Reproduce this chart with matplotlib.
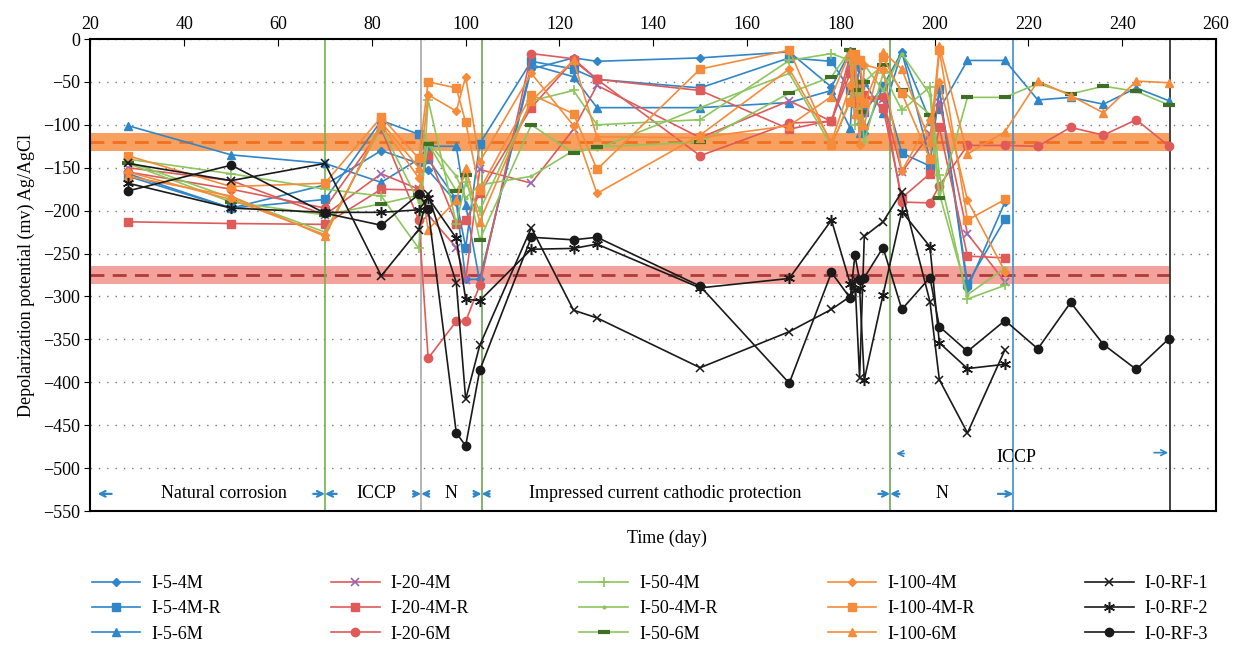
import numpy as np
import matplotlib
matplotlib.use('Agg')
import matplotlib.pyplot as plt

plt.rcParams['font.family'] = ['Liberation Serif', 'DejaVu Serif']

# sampling days
days = [28, 50, 70, 82, 90, 92, 98, 100, 103, 114, 123, 128, 150, 169, 178,
        182, 183, 184, 185, 189, 193, 199, 201, 207, 215]
tail_days = [222, 229, 236, 243, 250]
days_long = days + tail_days

# depolarization potential (mV) per specimen
I_5_4M   = [-157, -197, -170, -130, -145, -153, -190, -280, -280, -35, -22, -26, -22, -15, -56,
            -14, -20, -90, -110, -55, -15, -140, -60, -290, -190]
I_5_4M_R = [-160, -197, -187, -95, -111, -140, -187, -243, -122, -26, -35, -47, -57, -22, -26,
            -60, -75, -30, -85, -55, -133, -148, -58, -285, -210]
I_5_6M   = [-101, -135, -145, -167, -140, -125, -125, -193, -283, -30, -44, -80, -80, -74, -60,
            -104, -18, -110, -50, -86, -15, -95, -82, -25, -25,
            -71, -68, -76, -57, -72]
I_20_4M   = [-150, -165, -205, -157, -175, -205, -243, -281, -152, -168, -105, -54, -115, -72, -96,
             -30, -40, -95, -70, -70, -155, -111, -73, -227, -283]
I_20_4M_R = [-213, -215, -216, -175, -176, -135, -215, -211, -180, -80, -25, -47, -60, -105, -95,
             -40, -73, -55, -65, -80, -185, -157, -103, -253, -255]
I_20_6M   = [-155, -175, -197, -105, -211, -372, -329, -329, -287, -17, -23, -47, -136, -98, -96,
             -20, -50, -75, -68, -67, -190, -191, -171, -124, -124,
             -125, -103, -112, -94, -125]
I_50_4M   = [-140, -157, -175, -183, -244, -71, -215, -167, -200, -72, -60, -100, -94, -25, -17,
             -25, -100, -60, -120, -40, -83, -56, -158, -303, -287]
I_50_4M_R = [-143, -185, -225, -103, -190, -120, -160, -185, -170, -160, -130, -128, -80, -40, -125,
             -70, -20, -100, -30, -60, -17, -65, -180, -298, -267]
I_50_6M   = [-145, -190, -205, -192, -182, -122, -177, -158, -234, -100, -133, -126, -120, -63, -44,
             -13, -60, -85, -50, -30, -60, -88, -185, -68, -68,
             -52, -64, -55, -61, -77]
I_100_4M   = [-155, -187, -228, -100, -162, -65, -84, -44, -143, -40, -101, -180, -112, -35, -120,
              -54, -24, -123, -30, -36, -154, -94, -50, -188, -271]
I_100_4M_R = [-136, -172, -168, -91, -139, -50, -57, -97, -176, -65, -87, -152, -35, -13, -124,
              -73, -18, -24, -75, -21, -63, -140, -13, -211, -187]
I_100_6M   = [-160, -183, -230, -97, -150, -222, -188, -150, -213, -72, -25, -114, -115, -101, -67,
              -15, -87, -69, -100, -15, -35, -120, -8, -134, -108,
              -49, -66, -86, -49, -51]
I_0_RF_1 = [-145, -165, -145, -276, -222, -181, -284, -420, -357, -220, -316, -325, -383, -341, -315,
            -300, -280, -395, -230, -213, -178, -306, -397, -459, -362]
I_0_RF_2 = [-168, -197, -202, -202, -199, -185, -232, -303, -305, -245, -244, -239, -290, -279, -211,
            -285, -292, -290, -397, -298, -201, -242, -354, -384, -379]
I_0_RF_3 = [-177, -147, -203, -217, -181, -198, -459, -474, -386, -231, -234, -231, -288, -401, -272,
            -302, -252, -281, -278, -243, -315, -278, -335, -364, -328,
            -361, -307, -356, -385, -349]

blue = '#2f86c8'
red = '#e05a5a'
purple = '#9467bd'
lgreen = '#8cc65c'
dgreen = '#3f6e26'
orange = '#f68b3a'
black = '#1a1a1a'

series = [
    ('I-5-4M', I_5_4M, dict(color=blue, marker='D', ms=4.5)),
    ('I-5-4M-R', I_5_4M_R, dict(color=blue, marker='s', ms=6)),
    ('I-5-6M', I_5_6M, dict(color=blue, marker='^', ms=6)),
    ('I-20-4M', I_20_4M, dict(color=red, marker='x', ms=6, mec=purple, mew=1.2)),
    ('I-20-4M-R', I_20_4M_R, dict(color=red, marker='s', ms=6)),
    ('I-20-6M', I_20_6M, dict(color=red, marker='o', ms=6)),
    ('I-50-4M', I_50_4M, dict(color=lgreen, marker='+', ms=7, mew=1.2)),
    ('I-50-4M-R', I_50_4M_R, dict(color=lgreen, marker='.', ms=4)),
    ('I-50-6M', I_50_6M, dict(color=lgreen, marker='_', ms=8, mec=dgreen, mew=3)),
    ('I-100-4M', I_100_4M, dict(color=orange, marker='D', ms=4.5)),
    ('I-100-4M-R', I_100_4M_R, dict(color=orange, marker='s', ms=6)),
    ('I-100-6M', I_100_6M, dict(color=orange, marker='^', ms=6)),
    ('I-0-RF-1', I_0_RF_1, dict(color=black, marker='x', ms=6, mew=1.1)),
    ('I-0-RF-2', I_0_RF_2, dict(color=black, marker=(6, 2, 0), ms=8, mew=1.1)),
    ('I-0-RF-3', I_0_RF_3, dict(color=black, marker='o', ms=6)),
]

fig = plt.figure(figsize=(12.43, 6.5), dpi=100)
ax = fig.add_axes([0.0728, 0.2138, 0.9055, 0.7262])

# reference bands
ax.fill_between([20, 250], -110, -130, color='#f8a060', lw=0, zorder=1)
ax.plot([20, 250], [-120, -120], color='#f07020', lw=2, ls=(0, (5, 3)), zorder=1.5)
ax.fill_between([20, 250], -265, -285, color='#f3a29c', lw=0, zorder=1)
ax.plot([20, 250], [-275, -275], color='#b03a3a', lw=2, ls=(0, (5, 3)), zorder=1.5)

# stage boundaries
ax.axvline(70, color='#77b24f', lw=1.2, zorder=2)
ax.axvline(90.5, color='#a8a8a8', lw=1.2, zorder=2)
ax.axvline(103.4, color='#6aa84f', lw=1.2, zorder=2)
ax.axvline(190.5, color='#6aa84f', lw=1.2, zorder=2)
ax.axvline(216.8, color='#3d8fd1', lw=1.2, zorder=2)
ax.axvline(250.2, color='#222222', lw=1.2, zorder=2)

handles = []
for name, vals, st in series:
    x = days_long if len(vals) == len(days_long) else days
    h, = ax.plot(x, vals, lw=1.2, label=name, zorder=3, **st)
    handles.append(h)

ax.set_xlim(20, 260)
ax.set_ylim(-550, 0)
ax.set_xticks(np.arange(20, 261, 20))
ax.set_yticks(np.arange(-550, 1, 50))
ax.xaxis.tick_top()
ax.tick_params(axis='x', direction='in', length=5, labelsize=13, pad=4)
ax.tick_params(axis='y', direction='out', length=4, labelsize=13)
ax.grid(axis='y', ls=(0, (1, 5)), color='#777777', lw=1)
for s in ax.spines.values():
    s.set_linewidth(1.5)

ax.set_ylabel('Depolarization potential (mv) Ag/AgCl', fontsize=13, labelpad=6)
fig.text(0.5365, 0.172, 'Time (day)', ha='center', va='center', fontsize=13)

# stage annotations
arr = dict(arrowstyle='->', color=blue, lw=1.6, shrinkA=0, shrinkB=0)
y1 = -530
ax.text(48.5, y1, 'Natural corrosion', ha='center', va='center', fontsize=13)
ax.text(81, y1, 'ICCP', ha='center', va='center', fontsize=13)
ax.text(96.8, y1, 'N', ha='center', va='center', fontsize=13)
ax.text(142.5, y1, 'Impressed current cathodic protection', ha='center', va='center', fontsize=13)
ax.text(201.5, y1, 'N', ha='center', va='center', fontsize=13)
for x0, x1 in [(24.5, 21.5), (67.5, 70), (72.5, 70), (88.8, 90.5), (92.2, 90.5),
               (101.7, 103.4), (105.1, 103.4), (188, 190.5), (192.5, 190.5), (213.5, 216.8)]:
    ax.annotate('', xy=(x1, y1), xytext=(x0, y1), arrowprops=arr)
y2 = -488
ax.text(217.5, y2, 'ICCP', ha='center', va='center', fontsize=13)
arr2 = dict(arrowstyle='->', color=blue, lw=1.2, shrinkA=0, shrinkB=0)
ax.annotate('', xy=(191.8, -483), xytext=(193.5, -483), arrowprops=arr2)
ax.annotate('', xy=(249.8, -482), xytext=(246.8, -482), arrowprops=arr2)

fig.legend(handles=handles, loc='upper left', bbox_to_anchor=(0.068, 0.126), ncol=5,
           frameon=False, fontsize=13, handlelength=2.7, columnspacing=6.1,
           labelspacing=0.45, handletextpad=0.6, borderaxespad=0)

fig.savefig('out.png', dpi=100)
